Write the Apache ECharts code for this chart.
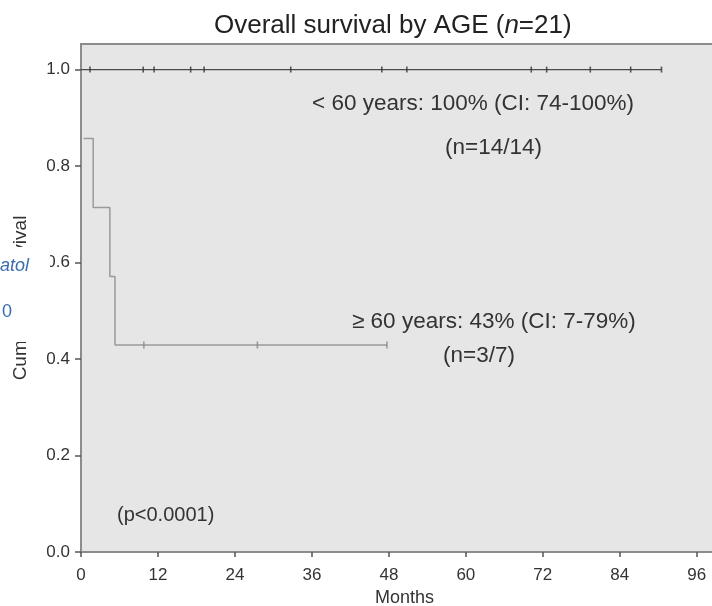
<!DOCTYPE html>
<html lang="en">
<head>
  <meta charset="UTF-8">
  <title>Overall survival by AGE</title>
  <script type="text/javascript" src="https://cdn.jsdelivr.net/npm/echarts@6/dist/echarts.min.js"></script>
  <style>
    html, body { margin: 0; padding: 0; background: #fff; }
    #km { width: 712px; height: 606px; }
  </style>
</head>
<body>
  <div id="km"></div>
  <script type="text/javascript">
    // months / survival
    var youngTimes = [0, 90.5];
    var youngSurv = [1, 1];
    var youngCensor = [1.4, 9.7, 11.4, 17.1, 19.2, 32.7, 46.9, 50.8, 70.2, 72.6, 79.4, 85.7, 90.5];

    var oldTimes = [0.4, 1.9, 4.5, 5.3, 47.7];
    var oldSurv = [0.857, 0.714, 0.571, 0.429, 0.429];
    var oldCensor = [9.8, 27.5, 47.7];
    var oldCensorSurv = 0.429;

    var xTicks = [0, 12, 24, 36, 48, 60, 72, 84, 96];
    var yTicks = [0, 0.2, 0.4, 0.6, 0.8, 1.0];

    var font = 'Liberation Sans, Arial, sans-serif';

    function pairs(xs, ys) {
      return xs.map(function (x, i) { return [x, ys[i]]; });
    }
    function flat(xs, y) {
      return xs.map(function (x) { return [x, y]; });
    }

    var chart = echarts.init(document.getElementById('km'), null, { width: 712, height: 606 });

    var option = {
      animation: false,
      backgroundColor: '#fff',
      title: {
        text: '{a|Overall survival by AGE (}{i|n}{a|=21)}',
        left: 209,
        top: 8,
        textStyle: {
          rich: {
            a: { fontFamily: font, fontSize: 26, fontWeight: 'normal', color: '#222' },
            i: { fontFamily: font, fontSize: 26, fontWeight: 'normal', color: '#222', fontStyle: 'italic' }
          }
        }
      },
      grid: {
        left: 81,
        right: -4,
        top: 44,
        bottom: 54,
        outerBoundsMode: 'none',
        containLabel: false,
        show: true,
        backgroundColor: '#e6e6e6',
        borderColor: '#8c8c8c',
        borderWidth: 2
      },
      xAxis: {
        type: 'value',
        min: 0,
        max: 99,
        interval: 12,
        name: 'Months',
        nameLocation: 'middle',
        nameGap: 36,
        nameTextStyle: { fontFamily: font, fontSize: 18, color: '#333', padding: [0, 0, 0, 12] },
        axisLine: { show: true, lineStyle: { color: '#8c8c8c', width: 2 } },
        axisTick: { show: true, length: 5, customValues: xTicks, lineStyle: { color: '#555', width: 1.5 } },
        axisLabel: { customValues: xTicks, margin: 15, fontFamily: font, fontSize: 17, color: '#333' },
        splitLine: { show: false }
      },
      yAxis: {
        type: 'value',
        min: 0,
        max: 1.053,
        interval: 0.2,
        name: 'Cumulative survival',
        nameLocation: 'middle',
        nameGap: 51,
        nameTextStyle: { fontFamily: font, fontSize: 19, color: '#333' },
        axisLine: { show: true, lineStyle: { color: '#8c8c8c', width: 2 } },
        axisTick: { show: true, length: 6, customValues: yTicks, lineStyle: { color: '#555', width: 1.5 } },
        axisLabel: {
          customValues: yTicks,
          margin: 11,
          fontFamily: font,
          fontSize: 17,
          color: '#333',
          formatter: function (v) { return v.toFixed(1); }
        },
        splitLine: { show: false }
      },
      series: [
        {
          name: '< 60 years',
          type: 'line',
          step: 'end',
          data: pairs(youngTimes, youngSurv),
          showSymbol: false,
          lineStyle: { color: '#4a4a4a', width: 1.3 },
          z: 3
        },
        {
          name: '< 60 years censored',
          type: 'scatter',
          data: flat(youngCensor, 1),
          symbol: 'rect',
          symbolSize: [1.6, 6],
          itemStyle: { color: '#333' },
          z: 4
        },
        {
          name: '>= 60 years',
          type: 'line',
          step: 'end',
          data: pairs(oldTimes, oldSurv),
          showSymbol: false,
          lineStyle: { color: '#9a9a9a', width: 1.5 },
          z: 2
        },
        {
          name: '>= 60 years censored',
          type: 'scatter',
          data: flat(oldCensor, oldCensorSurv),
          symbol: 'rect',
          symbolSize: [1.6, 7],
          itemStyle: { color: '#888' },
          z: 4
        }
      ],
      graphic: [
        {
          type: 'text', left: 312, top: 92,
          style: { text: '< 60 years: 100% (CI: 74-100%)', font: '22.5px ' + font, fill: '#333' }
        },
        {
          type: 'text', left: 445, top: 136,
          style: { text: '(n=14/14)', font: '22.5px ' + font, fill: '#333' }
        },
        {
          type: 'text', left: 352, top: 310,
          style: { text: '\u2265 60 years: 43% (CI: 7-79%)', font: '22.5px ' + font, fill: '#333' }
        },
        {
          type: 'text', left: 443, top: 344,
          style: { text: '(n=3/7)', font: '22.5px ' + font, fill: '#333' }
        },
        {
          type: 'text', left: 117, top: 505,
          style: { text: '(p<0.0001)', font: '20px ' + font, fill: '#333' }
        },
        // white patch over the y-axis title, as in the source image
        {
          type: 'rect', left: 0, top: 247, z: 100,
          shape: { width: 50, height: 95 },
          style: { fill: '#fff' }
        },
        {
          type: 'text', left: 0, top: 257, z: 101,
          style: { text: 'atol', font: 'italic 18px ' + font, fill: '#3a6db0' }
        },
        {
          type: 'text', left: 2, top: 303, z: 101,
          style: { text: '0', font: '18px ' + font, fill: '#3a6db0' }
        }
      ]
    };

    chart.setOption(option);
  </script>
</body>
</html>
